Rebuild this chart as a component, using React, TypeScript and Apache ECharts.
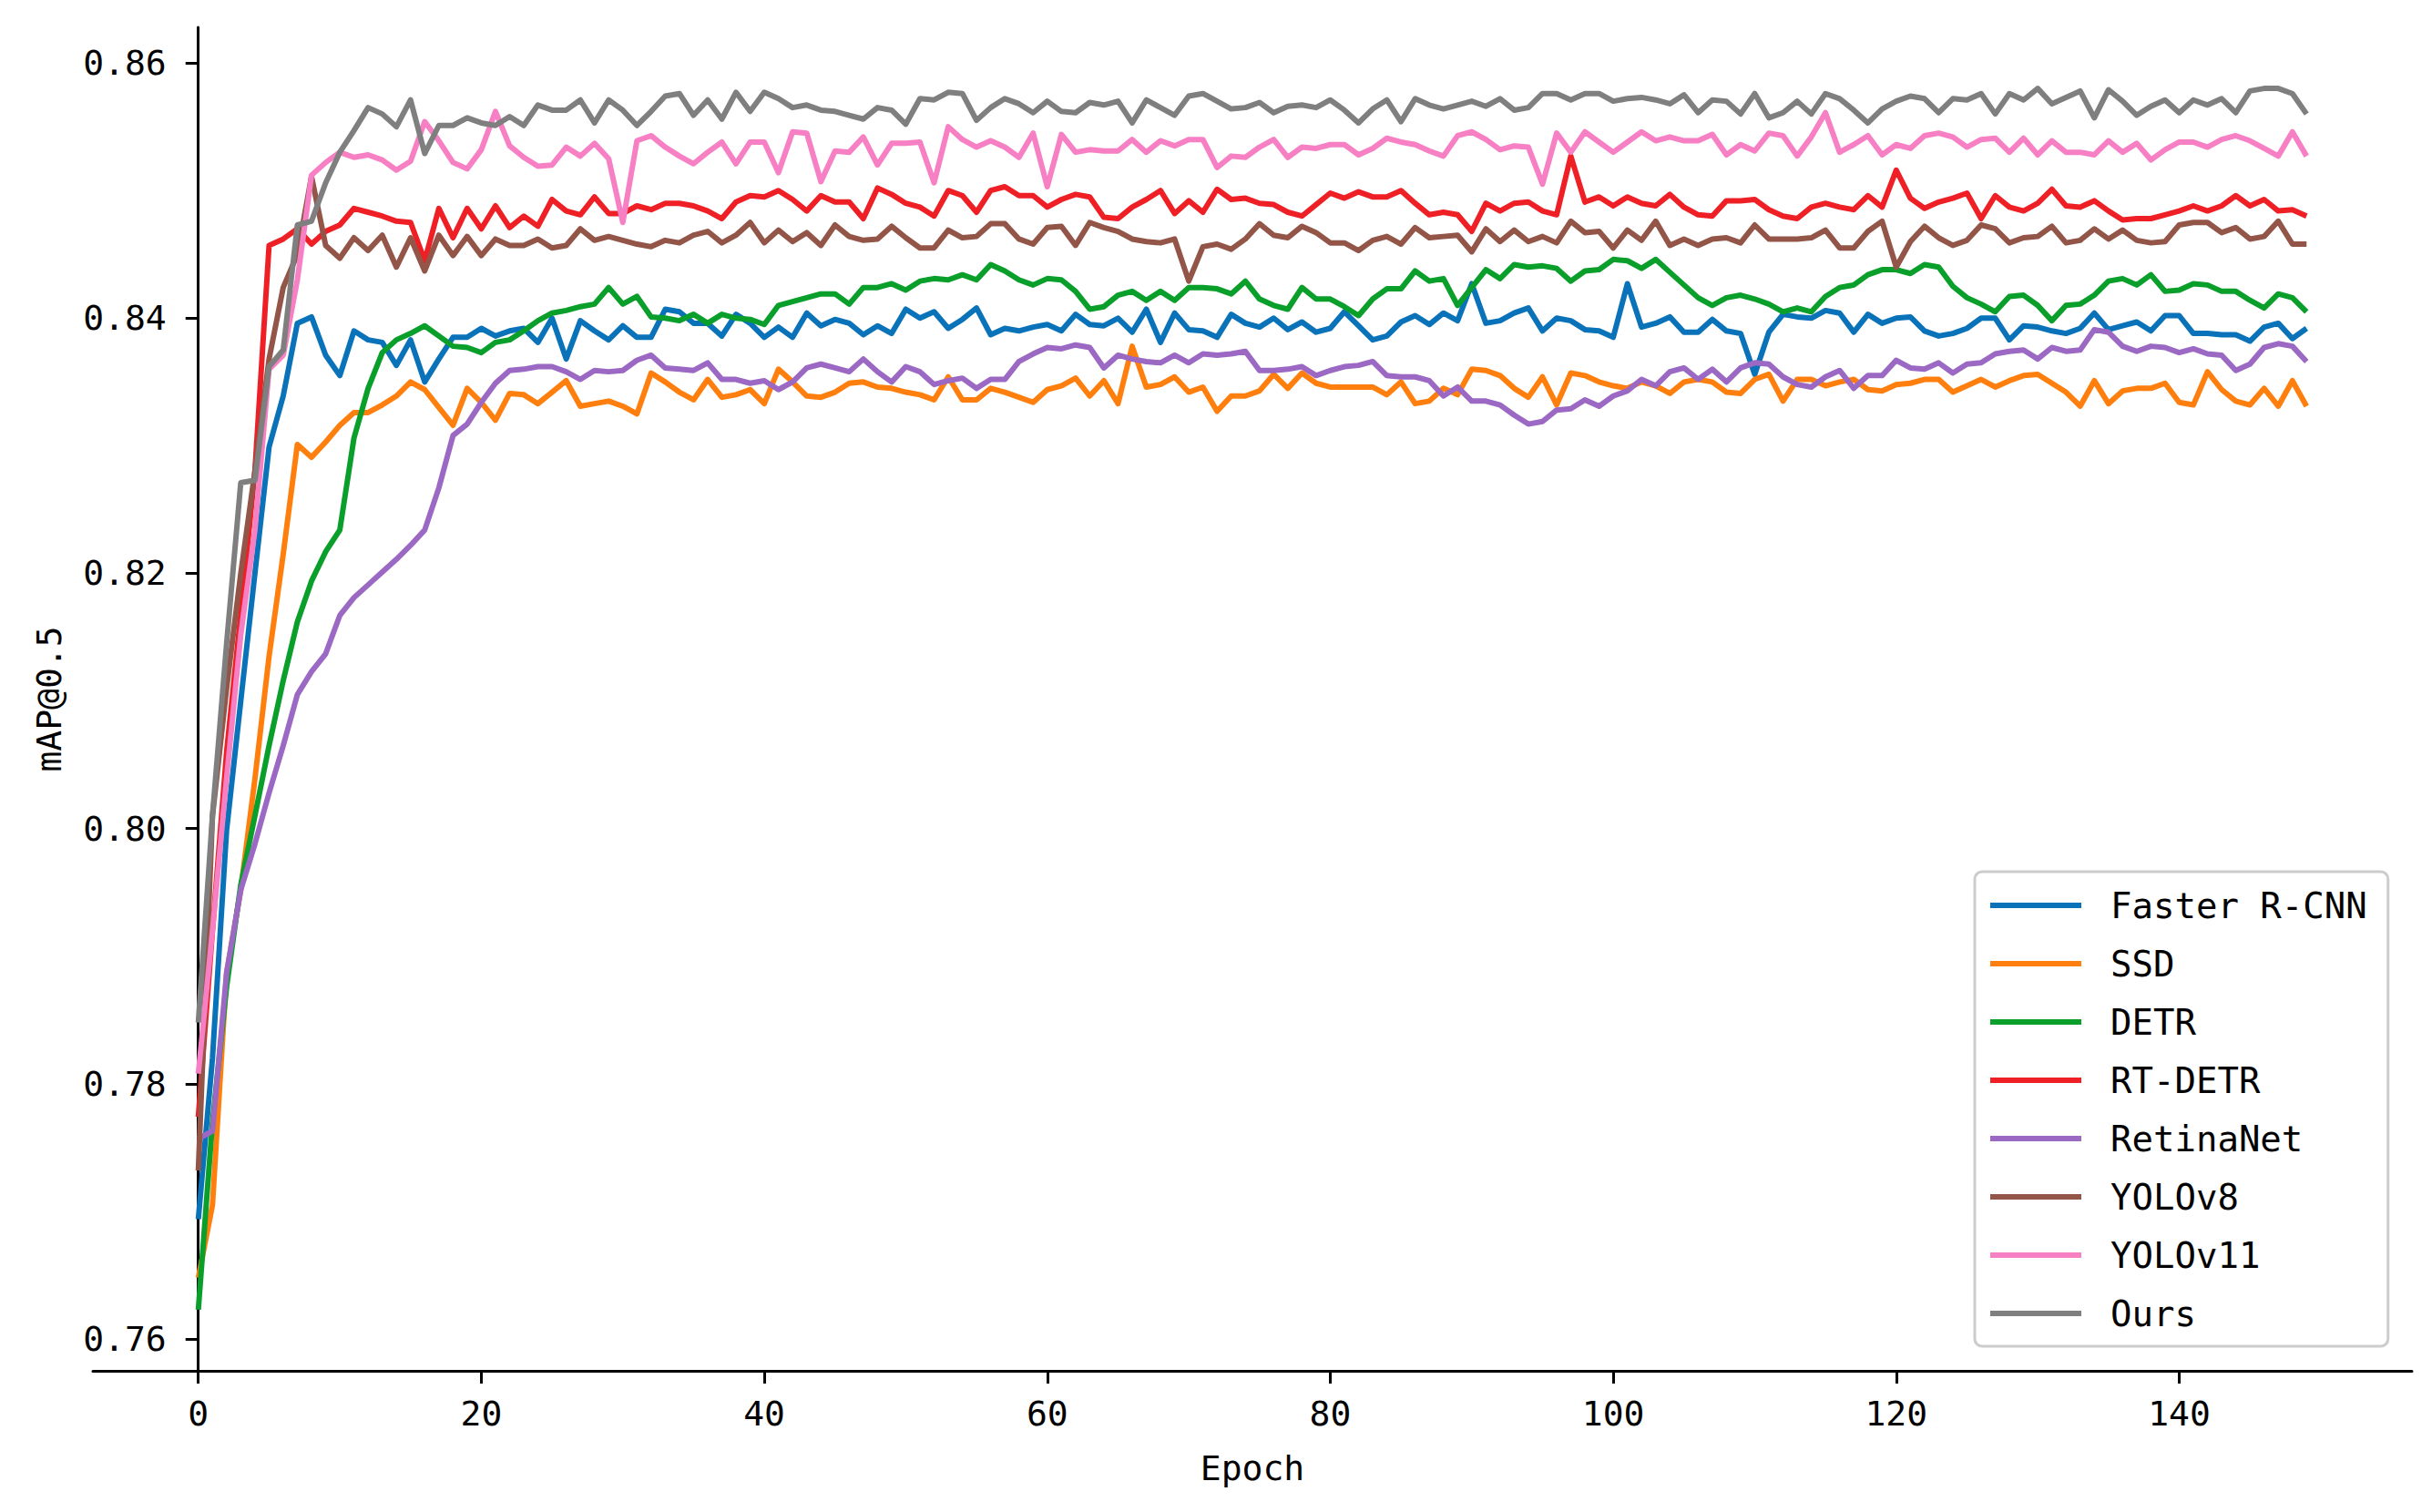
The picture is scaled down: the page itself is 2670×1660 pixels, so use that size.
import React, { useEffect, useRef } from "react";
import * as echarts from "echarts";

const seriesNames = ["Faster R-CNN", "SSD", "DETR", "RT-DETR", "RetinaNet", "YOLOv8", "YOLOv11", "Ours"];
const seriesColors = ["#0a72b8", "#ff7f0e", "#0a9e2a", "#ee2026", "#9b68c4", "#925548", "#f77fc4", "#7f7f7f"];
const xTicks = [0, 20, 40, 60, 80, 100, 120, 140];
const yTicks = [0.76, 0.78, 0.8, 0.82, 0.84, 0.86];

const fasterRCNN = [
  0.7694, 0.782, 0.7999, 0.81, 0.82, 0.8299, 0.8339, 0.8396, 0.8401, 0.8371, 0.8355, 0.839, 0.8383, 0.8381, 0.8363, 0.8383, 0.835, 0.8368, 0.8385, 0.8385, 0.8392, 0.8386, 0.839, 0.8392, 0.8381,
  0.84, 0.8368, 0.8398, 0.839, 0.8383, 0.8394, 0.8385, 0.8385, 0.8407, 0.8405, 0.8396, 0.8396, 0.8386, 0.8403, 0.8396, 0.8385, 0.8393, 0.8385, 0.8404, 0.8394, 0.8399, 0.8396, 0.8387, 0.8394, 0.8388,
  0.8407, 0.84, 0.8405, 0.8392, 0.8399, 0.8408, 0.8387, 0.8392, 0.839, 0.8393, 0.8395, 0.839, 0.8403, 0.8395, 0.8394, 0.84, 0.8389, 0.8407, 0.8381, 0.8404, 0.8391, 0.839, 0.8385, 0.8403, 0.8396,
  0.8393, 0.84, 0.8391, 0.8397, 0.8389, 0.8392, 0.8405, 0.8394, 0.8383, 0.8386, 0.8397, 0.8402, 0.8395, 0.8404, 0.8398, 0.8427, 0.8396, 0.8398, 0.8404, 0.8408, 0.839, 0.84, 0.8398, 0.8391, 0.839,
  0.8385, 0.8427, 0.8393, 0.8396, 0.8401, 0.8389, 0.8389, 0.8399, 0.839, 0.8388, 0.8356, 0.8389, 0.8403, 0.8401, 0.84, 0.8406, 0.8404, 0.8389, 0.8403, 0.8396, 0.84, 0.8401, 0.839, 0.8386, 0.8388,
  0.8392, 0.84, 0.84, 0.8383, 0.8394, 0.8393, 0.839, 0.8388, 0.8392, 0.8404, 0.8391, 0.8394, 0.8397, 0.839, 0.8402, 0.8402, 0.8388, 0.8388, 0.8387, 0.8387, 0.8382, 0.8393, 0.8396, 0.8384, 0.8392,
];

const ssd = [
  0.7648, 0.7705, 0.7887, 0.7952, 0.8039, 0.8135, 0.8215, 0.8301, 0.8291, 0.8303, 0.8316, 0.8326, 0.8326, 0.8332, 0.8339, 0.835, 0.8344, 0.833, 0.8316, 0.8345, 0.8334, 0.832, 0.8341, 0.834, 0.8333,
  0.8342, 0.8351, 0.8331, 0.8333, 0.8335, 0.8331, 0.8325, 0.8357, 0.835, 0.8342, 0.8336, 0.8352, 0.8338, 0.834, 0.8344, 0.8333, 0.836, 0.835, 0.8339, 0.8338, 0.8342, 0.8349, 0.835, 0.8346, 0.8345,
  0.8342, 0.834, 0.8336, 0.8354, 0.8336, 0.8336, 0.8345, 0.8342, 0.8338, 0.8334, 0.8344, 0.8347, 0.8353, 0.8339, 0.8351, 0.8333, 0.8378, 0.8346, 0.8348, 0.8354, 0.8342, 0.8346, 0.8327, 0.8339, 0.8339,
  0.8343, 0.8356, 0.8345, 0.8357, 0.8349, 0.8346, 0.8346, 0.8346, 0.8346, 0.834, 0.835, 0.8333, 0.8335, 0.8345, 0.834, 0.836, 0.8359, 0.8355, 0.8345, 0.8338, 0.8354, 0.8332, 0.8357, 0.8355, 0.835,
  0.8347, 0.8345, 0.835, 0.8347, 0.8341, 0.835, 0.8352, 0.835, 0.8342, 0.8341, 0.8352, 0.8356, 0.8335, 0.8352, 0.8352, 0.8347, 0.835, 0.8352, 0.8344, 0.8343, 0.8348, 0.8349, 0.8352, 0.8352, 0.8342,
  0.8347, 0.8352, 0.8346, 0.8351, 0.8355, 0.8356, 0.8349, 0.8342, 0.8331, 0.8351, 0.8333, 0.8343, 0.8345, 0.8345, 0.8349, 0.8334, 0.8332, 0.8358, 0.8344, 0.8335, 0.8332, 0.8345, 0.8331, 0.8351, 0.8331,
];

const detr = [
  0.7623, 0.777, 0.7876, 0.7956, 0.801, 0.8065, 0.8116, 0.8162, 0.8194, 0.8217, 0.8234, 0.8306, 0.8345, 0.8373, 0.8383, 0.8388, 0.8394, 0.8386, 0.8378, 0.8377, 0.8373, 0.8381, 0.8383, 0.839, 0.8398,
  0.8404, 0.8406, 0.8409, 0.8411, 0.8424, 0.8411, 0.8417, 0.8401, 0.84, 0.8398, 0.8403, 0.8396, 0.8403, 0.84, 0.8399, 0.8395, 0.841, 0.8413, 0.8416, 0.8419, 0.8419, 0.8411, 0.8424, 0.8424, 0.8427,
  0.8422, 0.8429, 0.8431, 0.843, 0.8434, 0.843, 0.8442, 0.8437, 0.843, 0.8426, 0.8431, 0.843, 0.8421, 0.8407, 0.8409, 0.8418, 0.8421, 0.8414, 0.8421, 0.8414, 0.8424, 0.8424, 0.8423, 0.8419, 0.8429,
  0.8415, 0.841, 0.8407, 0.8424, 0.8415, 0.8415, 0.8409, 0.8402, 0.8415, 0.8423, 0.8423, 0.8437, 0.8429, 0.8431, 0.841, 0.8424, 0.8438, 0.8431, 0.8442, 0.844, 0.8441, 0.8439, 0.8429, 0.8437, 0.8438,
  0.8446, 0.8445, 0.8439, 0.8446, 0.8436, 0.8426, 0.8416, 0.841, 0.8416, 0.8418, 0.8415, 0.8411, 0.8405, 0.8408, 0.8405, 0.8417, 0.8424, 0.8426, 0.8434, 0.8438, 0.8438, 0.8435, 0.8442, 0.844, 0.8425,
  0.8416, 0.8411, 0.8405, 0.8417, 0.8418, 0.841, 0.8398, 0.841, 0.8411, 0.8418, 0.8429, 0.8431, 0.8426, 0.8434, 0.8421, 0.8422, 0.8427, 0.8426, 0.8421, 0.8421, 0.8414, 0.8408, 0.8419, 0.8416, 0.8405,
];

const rtDetr = [
  0.7774, 0.792, 0.806, 0.8168, 0.828, 0.8457, 0.8462, 0.847, 0.8458, 0.8468, 0.8473, 0.8486, 0.8483, 0.848, 0.8476, 0.8475, 0.8445, 0.8486, 0.8463, 0.8486, 0.847, 0.8488, 0.8471, 0.848, 0.8472,
  0.8493, 0.8484, 0.8481, 0.8495, 0.8482, 0.8482, 0.8488, 0.8485, 0.849, 0.849, 0.8488, 0.8484, 0.8478, 0.8491, 0.8496, 0.8495, 0.85, 0.8493, 0.8484, 0.8496, 0.8491, 0.8491, 0.8478, 0.8502, 0.8497,
  0.849, 0.8487, 0.848, 0.85, 0.8496, 0.8483, 0.85, 0.8503, 0.8496, 0.8496, 0.8487, 0.8493, 0.8497, 0.8495, 0.8479, 0.8478, 0.8487, 0.8493, 0.85, 0.8482, 0.8492, 0.8483, 0.8501, 0.8493, 0.8494,
  0.849, 0.8489, 0.8483, 0.848, 0.8489, 0.8498, 0.8494, 0.8499, 0.8495, 0.8495, 0.85, 0.849, 0.8481, 0.8483, 0.8481, 0.8468, 0.849, 0.8484, 0.849, 0.8491, 0.8484, 0.8481, 0.8527, 0.8491, 0.8495,
  0.8488, 0.8495, 0.849, 0.8488, 0.8497, 0.8487, 0.8481, 0.848, 0.8492, 0.8492, 0.8493, 0.8485, 0.848, 0.8478, 0.8487, 0.849, 0.8487, 0.8485, 0.8496, 0.8487, 0.8516, 0.8494, 0.8486, 0.8491, 0.8494,
  0.8498, 0.8478, 0.8496, 0.8487, 0.8484, 0.849, 0.8501, 0.8488, 0.8487, 0.8492, 0.8484, 0.8477, 0.8478, 0.8478, 0.8481, 0.8484, 0.8488, 0.8484, 0.8488, 0.8496, 0.8488, 0.8493, 0.8484, 0.8485, 0.848,
];

const retinaNet = [
  0.7757, 0.7763, 0.7887, 0.7952, 0.7988, 0.8028, 0.8065, 0.8105, 0.8123, 0.8137, 0.8167, 0.8181, 0.8191, 0.8201, 0.8211, 0.8222, 0.8234, 0.8267, 0.8308, 0.8317, 0.8334, 0.8349, 0.8359, 0.836, 0.8362,
  0.8362, 0.8358, 0.8352, 0.8359, 0.8358, 0.8359, 0.8367, 0.8371, 0.8361, 0.836, 0.8359, 0.8365, 0.8352, 0.8352, 0.8349, 0.8351, 0.8344, 0.835, 0.8361, 0.8364, 0.8361, 0.8358, 0.8368, 0.8358, 0.835,
  0.8362, 0.8358, 0.8348, 0.8351, 0.8353, 0.8345, 0.8352, 0.8352, 0.8366, 0.8372, 0.8377, 0.8376, 0.8379, 0.8377, 0.8361, 0.8371, 0.8368, 0.8366, 0.8365, 0.8371, 0.8365, 0.8372, 0.8371, 0.8372, 0.8374,
  0.8359, 0.8359, 0.836, 0.8362, 0.8355, 0.8359, 0.8362, 0.8363, 0.8366, 0.8355, 0.8354, 0.8354, 0.8351, 0.8339, 0.8346, 0.8335, 0.8335, 0.8332, 0.8324, 0.8317, 0.8319, 0.8328, 0.8329, 0.8336, 0.8331,
  0.8339, 0.8343, 0.8352, 0.8347, 0.8358, 0.8361, 0.8352, 0.836, 0.835, 0.8361, 0.8365, 0.8364, 0.8354, 0.8348, 0.8346, 0.8354, 0.8359, 0.8345, 0.8355, 0.8355, 0.8367, 0.8361, 0.836, 0.8365, 0.8357,
  0.8364, 0.8365, 0.8372, 0.8374, 0.8375, 0.8368, 0.8377, 0.8374, 0.8375, 0.8391, 0.8389, 0.8378, 0.8374, 0.8378, 0.8377, 0.8373, 0.8376, 0.8372, 0.8371, 0.8359, 0.8364, 0.8377, 0.838, 0.8378, 0.8366,
];

const yolov8 = [
  0.7732, 0.801, 0.811, 0.82, 0.828, 0.8368, 0.8424, 0.845, 0.8511, 0.8457, 0.8447, 0.8463, 0.8453, 0.8465, 0.844, 0.8463, 0.8437, 0.8465, 0.8449, 0.8464, 0.8449, 0.8462, 0.8457, 0.8457, 0.8462,
  0.8455, 0.8457, 0.847, 0.8461, 0.8464, 0.8461, 0.8458, 0.8456, 0.8461, 0.8459, 0.8465, 0.8468, 0.8459, 0.8465, 0.8475, 0.8459, 0.8469, 0.846, 0.8467, 0.8457, 0.8473, 0.8464, 0.8461, 0.8462, 0.8472,
  0.8463, 0.8455, 0.8455, 0.8469, 0.8463, 0.8464, 0.8474, 0.8474, 0.8462, 0.8458, 0.8471, 0.8472, 0.8457, 0.8475, 0.8471, 0.8468, 0.8462, 0.846, 0.8459, 0.8462, 0.8429, 0.8456, 0.8458, 0.8454, 0.8462,
  0.8474, 0.8465, 0.8463, 0.8472, 0.8467, 0.8459, 0.8459, 0.8453, 0.8461, 0.8464, 0.8458, 0.8471, 0.8463, 0.8464, 0.8465, 0.8452, 0.847, 0.846, 0.8469, 0.846, 0.8464, 0.8459, 0.8476, 0.8467, 0.8468,
  0.8455, 0.8469, 0.8461, 0.8476, 0.8457, 0.8462, 0.8457, 0.8462, 0.8463, 0.8459, 0.8473, 0.8462, 0.8462, 0.8462, 0.8463, 0.8469, 0.8455, 0.8455, 0.8468, 0.8476, 0.844, 0.846, 0.8472, 0.8463, 0.8457,
  0.8461, 0.8473, 0.847, 0.8459, 0.8463, 0.8464, 0.8472, 0.8459, 0.8461, 0.847, 0.8462, 0.8469, 0.8461, 0.8459, 0.846, 0.8473, 0.8475, 0.8475, 0.8467, 0.8471, 0.8462, 0.8464, 0.8476, 0.8458, 0.8458,
];

const yolov11 = [
  0.7808, 0.792, 0.804, 0.8152, 0.8234, 0.836, 0.8371, 0.843, 0.8512, 0.8522, 0.853, 0.8526, 0.8528, 0.8524, 0.8516, 0.8523, 0.8554, 0.8539, 0.8522, 0.8517, 0.8532, 0.8562, 0.8535, 0.8526, 0.8519,
  0.852, 0.8534, 0.8527, 0.8537, 0.8525, 0.8475, 0.8539, 0.8543, 0.8534, 0.8527, 0.8521, 0.853, 0.8538, 0.8521, 0.8538, 0.8538, 0.8514, 0.8546, 0.8545, 0.8507, 0.8531, 0.853, 0.8542, 0.852, 0.8537,
  0.8537, 0.8538, 0.8506, 0.855, 0.854, 0.8534, 0.8539, 0.8534, 0.8526, 0.8545, 0.8503, 0.8544, 0.853, 0.8532, 0.8531, 0.8531, 0.854, 0.853, 0.8539, 0.8535, 0.854, 0.854, 0.8518, 0.8527, 0.8526,
  0.8534, 0.854, 0.8526, 0.8534, 0.8533, 0.8536, 0.8536, 0.8528, 0.8533, 0.8541, 0.8538, 0.8536, 0.8531, 0.8527, 0.8543, 0.8546, 0.854, 0.8532, 0.8535, 0.8534, 0.8505, 0.8545, 0.853, 0.8546, 0.8538,
  0.853, 0.8538, 0.8546, 0.8539, 0.8542, 0.8539, 0.8539, 0.8544, 0.8528, 0.8536, 0.8531, 0.8545, 0.8543, 0.8527, 0.8542, 0.8561, 0.853, 0.8536, 0.8543, 0.8528, 0.8536, 0.8533, 0.8543, 0.8545, 0.8542,
  0.8534, 0.854, 0.8541, 0.853, 0.8541, 0.8528, 0.8539, 0.853, 0.853, 0.8528, 0.8539, 0.853, 0.8537, 0.8524, 0.8532, 0.8538, 0.8538, 0.8534, 0.854, 0.8543, 0.8539, 0.8533, 0.8527, 0.8546, 0.8527,
];

const ours = [
  0.7848, 0.801, 0.8145, 0.8271, 0.8273, 0.8362, 0.8375, 0.8473, 0.8476, 0.8506, 0.853, 0.8547, 0.8565, 0.856, 0.855, 0.8571, 0.8529, 0.8551, 0.8551, 0.8557, 0.8553, 0.8551, 0.8558, 0.8551, 0.8567,
  0.8563, 0.8563, 0.8571, 0.8553, 0.8571, 0.8563, 0.8551, 0.8562, 0.8574, 0.8576, 0.8559, 0.8571, 0.8556, 0.8577, 0.8562, 0.8577, 0.8572, 0.8565, 0.8567, 0.8563, 0.8562, 0.8559, 0.8556, 0.8565, 0.8563,
  0.8552, 0.8572, 0.8571, 0.8577, 0.8576, 0.8555, 0.8565, 0.8572, 0.8568, 0.8561, 0.857, 0.8562, 0.8561, 0.8569, 0.8567, 0.857, 0.8553, 0.8571, 0.8565, 0.8559, 0.8574, 0.8576, 0.857, 0.8564, 0.8565,
  0.8569, 0.8561, 0.8566, 0.8567, 0.8565, 0.8571, 0.8563, 0.8553, 0.8564, 0.8571, 0.8554, 0.8572, 0.8567, 0.8564, 0.8567, 0.857, 0.8566, 0.8572, 0.8563, 0.8565, 0.8576, 0.8576, 0.8571, 0.8576, 0.8576,
  0.857, 0.8572, 0.8573, 0.8571, 0.8568, 0.8575, 0.8561, 0.8571, 0.857, 0.856, 0.8576, 0.8557, 0.8561, 0.857, 0.856, 0.8576, 0.8572, 0.8563, 0.8553, 0.8564, 0.857, 0.8574, 0.8572, 0.8561, 0.8572,
  0.8571, 0.8576, 0.856, 0.8576, 0.8571, 0.858, 0.8568, 0.8573, 0.8578, 0.8557, 0.8579, 0.857, 0.8559, 0.8566, 0.8571, 0.8561, 0.8571, 0.8567, 0.8572, 0.8561, 0.8578, 0.858, 0.858, 0.8576, 0.856,
];

const seriesValues = [fasterRCNN, ssd, detr, rtDetr, retinaNet, yolov8, yolov11, ours];

const FONT = "'DejaVu Sans Mono', 'Liberation Mono', monospace";

const X_MIN = -7.45;
const X_MAX = 156.45;
const GRID_LEFT = 102;
const GRID_RIGHT = 22;
const CHART_W = 2670;

export default function App() {
  const ref = useRef<HTMLDivElement>(null);

  useEffect(() => {
    if (!ref.current) return;
    const chart = echarts.init(ref.current, undefined, { renderer: "svg" });
    const axisLineStyle = { color: "#000", width: 3 };
    const plotW = CHART_W - GRID_LEFT - GRID_RIGHT;
    // the y-axis spine sits at epoch 0, inside the plot area
    const yAxisShift = ((0 - X_MIN) / (X_MAX - X_MIN)) * plotW;
    const option = {
      animation: false,
      backgroundColor: "#ffffff",
      grid: {
        left: GRID_LEFT,
        right: GRID_RIGHT,
        top: 30,
        bottom: 155,
        containLabel: false,
        outerBoundsMode: "none",
      },
      xAxis: {
        type: "value",
        min: X_MIN,
        max: X_MAX,
        name: "Epoch",
        nameLocation: "middle",
        nameGap: 88,
        nameTextStyle: { fontFamily: FONT, fontSize: 38, color: "#000" },
        axisLine: { show: true, onZero: false, lineStyle: axisLineStyle },
        axisTick: { show: true, length: 14, lineStyle: axisLineStyle, customValues: xTicks },
        axisLabel: { show: true, customValues: xTicks, margin: 28, fontFamily: FONT, fontSize: 38, color: "#000" },
        splitLine: { show: false },
      },
      yAxis: {
        type: "value",
        min: 0.75751,
        max: 0.86279,
        offset: -yAxisShift,
        name: "mAP@0.5",
        nameLocation: "middle",
        nameGap: 145,
        nameRotate: 90,
        nameTextStyle: { fontFamily: FONT, fontSize: 38, color: "#000" },
        axisLine: { show: true, onZero: false, lineStyle: axisLineStyle },
        axisTick: { show: true, length: 14, lineStyle: axisLineStyle, customValues: yTicks },
        axisLabel: {
          show: true,
          customValues: yTicks,
          margin: 35,
          fontFamily: FONT,
          fontSize: 38,
          color: "#000",
          formatter: (v: number) => v.toFixed(2),
        },
        splitLine: { show: false },
      },
      legend: {
        orient: "vertical",
        left: 2168,
        top: 957,
        padding: [17, 23, 16, 17],
        backgroundColor: "#ffffff",
        borderColor: "#cccccc",
        borderWidth: 3,
        borderRadius: 8,
        itemWidth: 100,
        itemHeight: 6,
        itemGap: 24,
        icon: "rect",
        textStyle: { fontFamily: FONT, fontSize: 39, color: "#000", lineHeight: 40, padding: [0, 0, 0, 27] },
        data: seriesNames,
      },
      series: seriesNames.map((name, si) => ({
        name,
        type: "line",
        showSymbol: false,
        symbol: "none",
        color: seriesColors[si],
        lineStyle: { width: 6, color: seriesColors[si], join: "round" },
        data: seriesValues[si].map((v, i) => [i, v]),
        z: 2 + si,
      })),
    };
    chart.setOption(option as any);
    return () => chart.dispose();
  }, []);

  return (
    <div
      ref={ref}
      style={{ position: "absolute", left: 0, top: 0, width: 2670, height: 1660, background: "#fff" }}
    />
  );
}
